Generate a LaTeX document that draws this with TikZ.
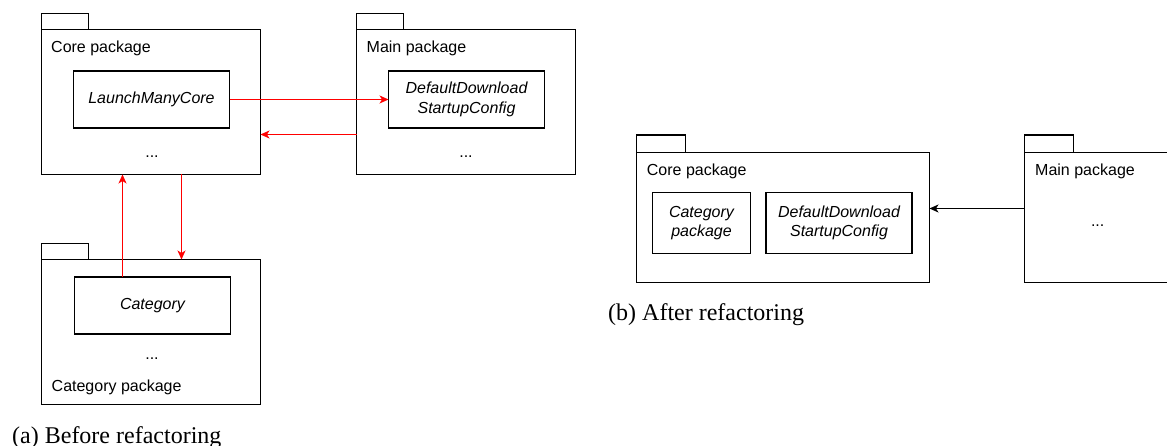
\documentclass[tikz,border=0pt]{standalone}
\usepackage{fontspec}
\setmainfont{Liberation Sans}
\newfontfamily\capfont{Liberation Serif}
\usetikzlibrary{arrows.meta}
\definecolor{arrred}{HTML}{FF0000}
\tikzset{
  pkg/.style={draw=black, line width=1.1pt, inner sep=0pt, outer sep=0pt},
  pkgtab/.style={draw=black, line width=1.1pt, inner sep=0pt, outer sep=0pt, minimum width=47pt, minimum height=16pt, anchor=south west},
  cls/.style={draw=black, line width=1.1pt, inner sep=0pt, outer sep=0pt, align=center,
    font=\fontsize{16}{19.5}\selectfont\itshape},
  lbl/.style={inner sep=0pt, anchor=base west, font=\fontsize{16}{19.5}\selectfont},
  dots/.style={inner sep=0pt, anchor=base, font=\fontsize{16}{19.5}\selectfont},
  figcaption/.style={inner sep=0pt, anchor=base west, font=\capfont\fontsize{24}{28}\selectfont},
  redarr/.style={draw=arrred, line width=1.1pt, -{Stealth[length=9pt,width=8pt,inset=2.5pt]}},
  blkarr/.style={draw=black, line width=1.1pt, -{Stealth[length=9pt,width=8pt,inset=2.5pt]}},
}
\begin{document}
\begin{tikzpicture}[x=1pt,y=-1pt]
\useasboundingbox (0,0) rectangle (1167,446);
\clip (0,0) rectangle (1167,446);

% ---------- (a) Before refactoring ----------
% Core package
\node[pkg, anchor=north west, minimum width=219pt, minimum height=145pt] (coreA) at (41.5,29.5) {};
\node[pkgtab] (coreAtab) at (coreA.north west) {};
\node[lbl] (coreAlbl) at (51,53) {Core package};
\node[cls, minimum width=156pt, minimum height=57pt] (lmc) at (151.5,99.5) {LaunchManyCore};
\node[dots] (coreAdots) at (152,157.5) {...};

% Main package
\node[pkg, anchor=north west, minimum width=219pt, minimum height=145pt] (mainA) at (356.5,29.5) {};
\node[pkgtab] (mainAtab) at (mainA.north west) {};
\node[lbl] (mainAlbl) at (366.5,53) {Main package};
\node[cls, minimum width=156pt, minimum height=57pt] (ddscA) at (466.5,99.5) {DefaultDownload\\StartupConfig};
\node[dots] (mainAdots) at (466,157.5) {...};

% Category package
\node[pkg, anchor=north west, minimum width=219pt, minimum height=145pt] (catA) at (41.5,259.5) {};
\node[pkgtab] (catAtab) at (catA.north west) {};
\node[cls, minimum width=156pt, minimum height=57pt] (category) at (152.5,305.5) {Category};
\node[dots] (catAdots) at (152,359.5) {...};
\node[lbl] (catAlbl) at (51.5,391.5) {Category package};

% arrows (a)
\draw[redarr] (lmc.east) -- (ddscA.west);
\draw[redarr] (mainA.west |- 0,134.5) -- (coreA.east |- 0,134.5);
\draw[redarr] (category.north -| 122.5,0) -- (coreA.south -| 122.5,0);
\draw[redarr] (coreA.south -| 181.5,0) -- (catA.north -| 181.5,0);

\node[figcaption] (capA) at (12,443) {(a) Before refactoring};

% ---------- (b) After refactoring ----------
\node[pkg, anchor=north west, minimum width=293pt, minimum height=130pt] (coreB) at (636.5,152.5) {};
\node[pkgtab, minimum width=49pt, minimum height=17.5pt] (coreBtab) at (coreB.north west) {};
\node[lbl] (coreBlbl) at (646.7,176) {Core package};
\node[cls, minimum width=98pt, minimum height=61pt] (catB) at (701.5,223) {Category\\package};
\node[cls, minimum width=146pt, minimum height=61pt] (ddscB) at (839,223) {DefaultDownload\\StartupConfig};

\node[pkg, anchor=north west, minimum width=160pt, minimum height=130pt] (mainB) at (1024.5,152.5) {};
\node[pkgtab, minimum width=49pt, minimum height=17.5pt] (mainBtab) at (mainB.north west) {};
\node[lbl] (mainBlbl) at (1035,175.5) {Main package};
\node[dots] (mainBdots) at (1097.7,226.5) {...};

\draw[blkarr] (mainB.west |- 0,208.5) -- (coreB.east |- 0,208.5);

\node[figcaption] (capB) at (608,320) {(b) After refactoring};
\end{tikzpicture}
\end{document}
